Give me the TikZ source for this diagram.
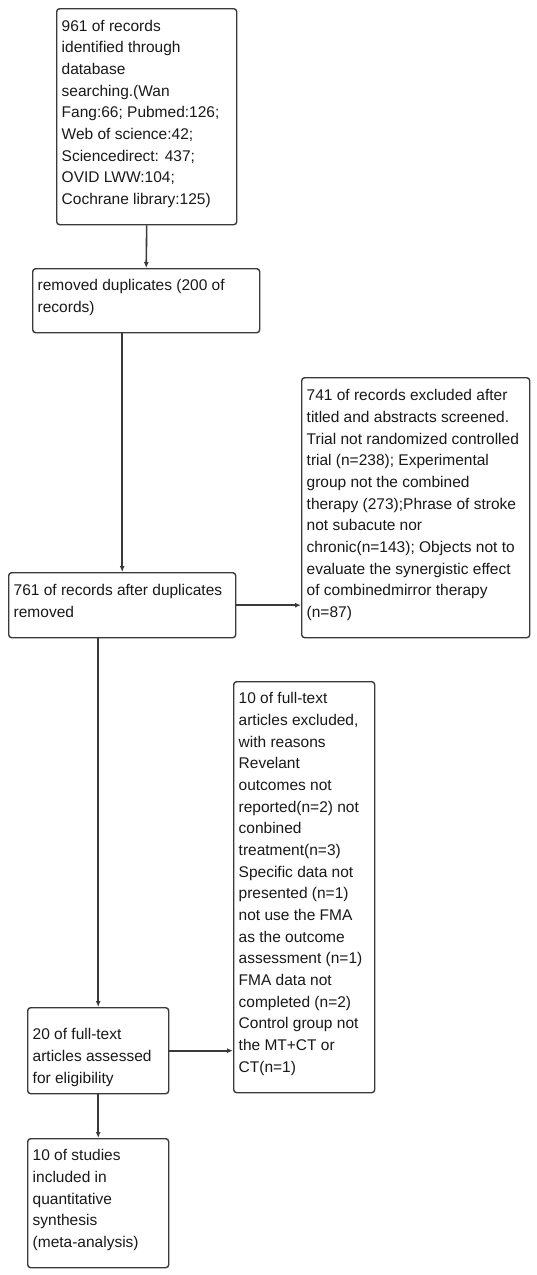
\documentclass[tikz,border=0pt]{standalone}
\usepackage{fontspec}
\setmainfont{Liberation Sans}
\usetikzlibrary{arrows.meta}
\definecolor{linec}{HTML}{3A3A3A}
\newcommand{\bxt}[4]{\begin{minipage}[t][#2pt][t]{\dimexpr#1pt-10pt\relax}\vspace*{#3pt}\raggedright\rule{0pt}{12pt}#4\end{minipage}}
\begin{document}
\begin{tikzpicture}[x=1pt,y=-1pt,
  box/.style={draw=linec, line width=1.4pt, rounded corners=3pt, inner xsep=5pt, inner ysep=0pt, anchor=north west, align=left, font=\fontsize{15.5}{21.67}\selectfont, text=black!90},
  conn/.style={draw=linec, line width=1.6pt},
  arr/.style={conn, -{Latex[length=6pt,width=5pt]}}]
\useasboundingbox[fill=white] (0,0) rectangle (536,1275);

\node[box] (b1) at (56,8) {\bxt{180}{216}{10.5}{961 of records\\identified through\\database\\searching.(Wan\\Fang:66; Pubmed:126;\\Web of science:42;\\Sciencedirect: 437;\\OVID LWW:104;\\Cochrane library:125)}};
\node[box] (b2) at (32,268) {\bxt{227}{64}{10}{removed duplicates (200 of\\records)}};
\node[box] (b3) at (301,377) {\bxt{228}{260}{11}{741 of records excluded after\\titled and abstracts screened.\\Trial not randomized controlled\\trial (n=238); Experimental\\group not the combined\\therapy (273);Phrase of stroke\\not subacute nor\\chronic(n=143); Objects not to\\evaluate the synergistic effect\\of combinedmirror therapy\\(n=87)}};
\node[box] (b4) at (8,572) {\bxt{227}{65}{11}{761 of records after duplicates\\removed}};
\node[box] (b5) at (233,681) {\bxt{141}{411}{10}{10 of full-text\\articles excluded,\\with reasons\\Revelant\\outcomes not\\reported(n=2) not\\conbined\\treatment(n=3)\\Specific data not\\presented (n=1)\\not use the FMA\\as the outcome\\assessment (n=1)\\FMA data not\\completed (n=2)\\Control group not\\the MT+CT or\\CT(n=1)}};
\node[box] (b6) at (27,1007) {\bxt{141}{86}{20}{20 of full-text\\articles assessed\\for eligibility}};
\node[box] (b7) at (27,1138) {\bxt{141}{129}{10}{10 of studies\\included in\\quantitative\\synthesis\\(meta-analysis)}};

\draw[arr] (b1.south) -- (b2.north);
\draw[arr] (b4.north |- b2.south) -- (b4.north);
\draw[arr] (b4.east) -- (b4.east -| b3.west);
\draw[arr] (b6.north |- b4.south) -- (b6.north);
\draw[arr] (b6.east) -- (b6.east -| b5.west);
\draw[arr] (b6.south) -- (b7.north);
\end{tikzpicture}
\end{document}
